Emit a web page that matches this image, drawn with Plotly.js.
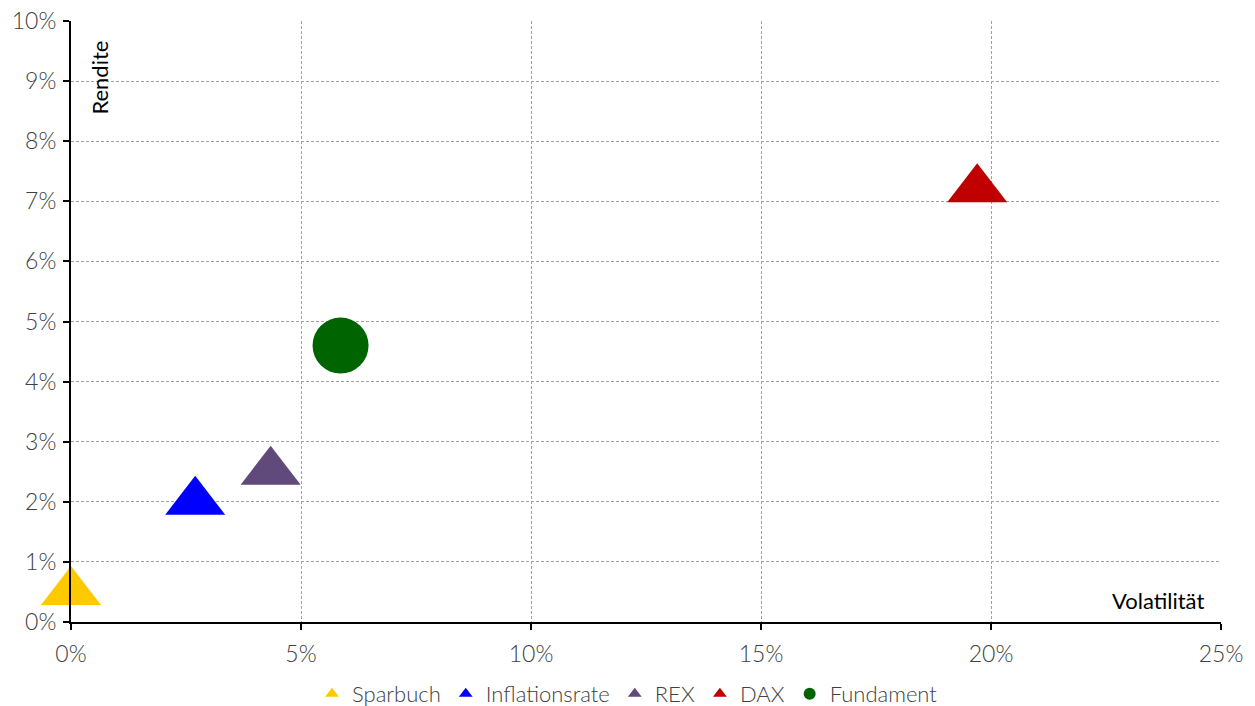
<!DOCTYPE html>
<html>
<head>
<meta charset="utf-8">
<script src="https://cdn.plot.ly/plotly-3.0.1.min.js"></script>
<style>html,body{margin:0;padding:0;background:#fff;}#chart{width:1255px;height:706px;}</style>
</head>
<body>
<div id="chart"></div>
<script>
const names = ['Sparbuch', 'Inflationsrate', 'REX', 'DAX', 'Fundament'];
const volatility = [0.0, 0.027, 0.0434, 0.197, 0.0586];
const returns = [0.005, 0.020, 0.025, 0.072, 0.046];
const colors = ['#FFC900', '#0000FF', '#604A7B', '#C00000', '#006400'];
const symbols = ['triangle-up', 'triangle-up', 'triangle-up', 'triangle-up', 'circle'];
const sizes = [52, 52, 52, 52, 56];

const traces = names.map((n, i) => ({
  type: 'scatter',
  mode: 'markers',
  name: n,
  x: [volatility[i]],
  y: [returns[i]],
  marker: {symbol: symbols[i], color: colors[i], size: sizes[i], line: {width: 0}},
  cliponaxis: false
}));

const layout = {
  width: 1255, height: 706,
  margin: {l: 71, r: 34, t: 21, b: 84},
  paper_bgcolor: '#fff', plot_bgcolor: '#fff',
  font: {family: 'Lato, sans-serif', size: 23, color: '#404040', weight: 300},
  showlegend: true,
  legend: {orientation: 'h', x: 0.5, xanchor: 'center', xref: 'container', yref: 'container', y: 0.017, yanchor: 'middle',
           font: {size: 22, color: '#404040', weight: 300}, itemsizing: 'constant', traceorder: 'normal'},
  xaxis: {range: [0, 0.25], dtick: 0.05, tickformat: '.0%', showline: true, linecolor: '#000', linewidth: 2,
          ticks: 'outside', ticklen: 6, tickwidth: 2, tickcolor: '#000', ticklabelstandoff: 4,
          tickfont: {size: 23, color: '#404040', weight: 300},
          showgrid: true, gridcolor: '#a0a0a0', gridwidth: 1, griddash: '3px,2px', zeroline: false,
          fixedrange: true},
  yaxis: {range: [0, 0.10], dtick: 0.01, tickformat: '.0%', showline: true, linecolor: '#000', linewidth: 2,
          ticks: 'outside', ticklen: 6, tickwidth: 2, tickcolor: '#000', ticklabelstandoff: 2,
          tickfont: {size: 23, color: '#404040', weight: 300},
          showgrid: true, gridcolor: '#a0a0a0', gridwidth: 1, griddash: '3px,2px', zeroline: false,
          fixedrange: true},
  annotations: [
    {text: 'Rendite', xref: 'paper', yref: 'paper', x: 0.0248, y: 0.905, textangle: -90,
     showarrow: false, font: {size: 22, color: '#000', weight: 400}, xanchor: 'center', yanchor: 'middle'},
    {text: 'Volatilität', xref: 'paper', yref: 'paper', x: 0.987, y: 0.035,
     showarrow: false, font: {size: 22, color: '#000', weight: 400}, xanchor: 'right', yanchor: 'middle'}
  ]
};

Plotly.newPlot('chart', traces, layout, {displayModeBar: false, staticPlot: true});
</script>
</body>
</html>
